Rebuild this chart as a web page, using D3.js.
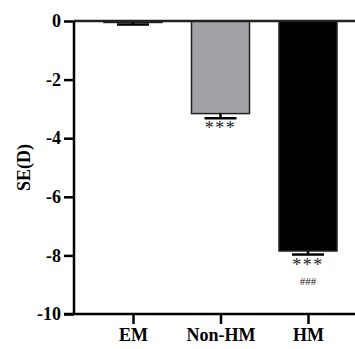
<!DOCTYPE html>
<html>
<head>
<meta charset="utf-8">
<script src="https://cdn.jsdelivr.net/npm/d3@7"></script>
<style>
  body { margin: 0; background: #fff; }
  text { font-family: "Liberation Serif", "Times New Roman", serif; }
</style>
</head>
<body>
<div id="chart-area"></div>
<script>
const categories = ["EM", "Non-HM", "HM"];
const values = [-0.05, -3.16, -7.85];
const errors = [0.07, 0.16, 0.12];
const stars = ["", "***", "***"];
const hashes = ["", "", "###"];
const fills = ["#000000", "#a2a1a6", "#000000"];
const yTicks = [0, -2, -4, -6, -8, -10];

const W = 355, H = 349;
const MARGIN = { LEFT: 74, RIGHT: 0, TOP: 21, BOTTOM: 35 };

const svg = d3.select("#chart-area").append("svg")
  .attr("width", W).attr("height", H);

const y = d3.scaleLinear().domain([0, -10]).range([MARGIN.TOP, H - MARGIN.BOTTOM]);
const x = d3.scalePoint().domain(categories).range([133, 308]);
const barW = 58;

// bars
svg.selectAll("rect.bar").data(categories).enter().append("rect")
  .attr("class", "bar")
  .attr("x", d => x(d) - barW / 2)
  .attr("y", y(0))
  .attr("width", barW)
  .attr("height", (d, i) => y(values[i]) - y(0))
  .attr("fill", (d, i) => fills[i])
  .attr("stroke", "#222")
  .attr("stroke-width", 1.5);

// error bars
const eb = svg.selectAll("g.err").data(categories).enter().append("g").attr("class", "err");
eb.append("line")
  .attr("x1", d => x(d)).attr("x2", d => x(d))
  .attr("y1", (d, i) => y(values[i])).attr("y2", (d, i) => y(values[i] - errors[i]))
  .attr("stroke", "#000").attr("stroke-width", 2.5);
eb.append("line")
  .attr("x1", d => x(d) - 16).attr("x2", d => x(d) + 16)
  .attr("y1", (d, i) => y(values[i] - errors[i])).attr("y2", (d, i) => y(values[i] - errors[i]))
  .attr("stroke", "#000").attr("stroke-width", 2.5);

// zero line
svg.append("line")
  .attr("x1", MARGIN.LEFT).attr("x2", W)
  .attr("y1", y(0)).attr("y2", y(0))
  .attr("stroke", "#222").attr("stroke-width", 2.5);

// significance marks
svg.selectAll("text.star").data(categories).enter().append("text")
  .attr("class", "star")
  .attr("x", d => x(d))
  .attr("y", (d, i) => y(values[i] - errors[i]) + 16)
  .attr("text-anchor", "middle")
  .attr("font-size", 18)
  .attr("letter-spacing", 1.5)
  .attr("fill", "#222")
  .text((d, i) => stars[i]);
svg.selectAll("text.hash").data(categories).enter().append("text")
  .attr("class", "hash")
  .attr("x", d => x(d))
  .attr("y", (d, i) => y(values[i] - errors[i]) + 30)
  .attr("text-anchor", "middle")
  .attr("font-size", 11)
  .attr("fill", "#222")
  .text((d, i) => hashes[i]);

// y axis
const yAxis = svg.append("g")
  .attr("transform", `translate(${MARGIN.LEFT},0)`)
  .call(d3.axisLeft(y).tickValues(yTicks).tickSize(10).tickPadding(3).tickFormat(d => String(d)));
yAxis.select(".domain").attr("stroke-width", 2.5).attr("d", `M0,${y(0)}V${y(-10)}`);
yAxis.selectAll(".tick line").attr("stroke-width", 2.5);
yAxis.selectAll(".tick text")
  .attr("font-size", 18).attr("font-weight", "bold").attr("fill", "#000");

// x axis
const xAxis = svg.append("g")
  .attr("transform", `translate(0,${y(-10)})`)
  .call(d3.axisBottom(x).tickSize(10).tickPadding(4));
xAxis.select(".domain").attr("stroke-width", 2.5).attr("d", `M${MARGIN.LEFT - 10},0H${W}`);
xAxis.selectAll(".tick line").attr("stroke-width", 2.5);
xAxis.selectAll(".tick text")
  .attr("font-size", 18).attr("font-weight", "bold").attr("fill", "#000");

// y label
svg.append("text")
  .attr("transform", `translate(30,${(y(0) + y(-10)) / 2}) rotate(-90)`)
  .attr("text-anchor", "middle")
  .attr("font-size", 18)
  .attr("font-weight", "bold")
  .text("SE(D)");
</script>
</body>
</html>
